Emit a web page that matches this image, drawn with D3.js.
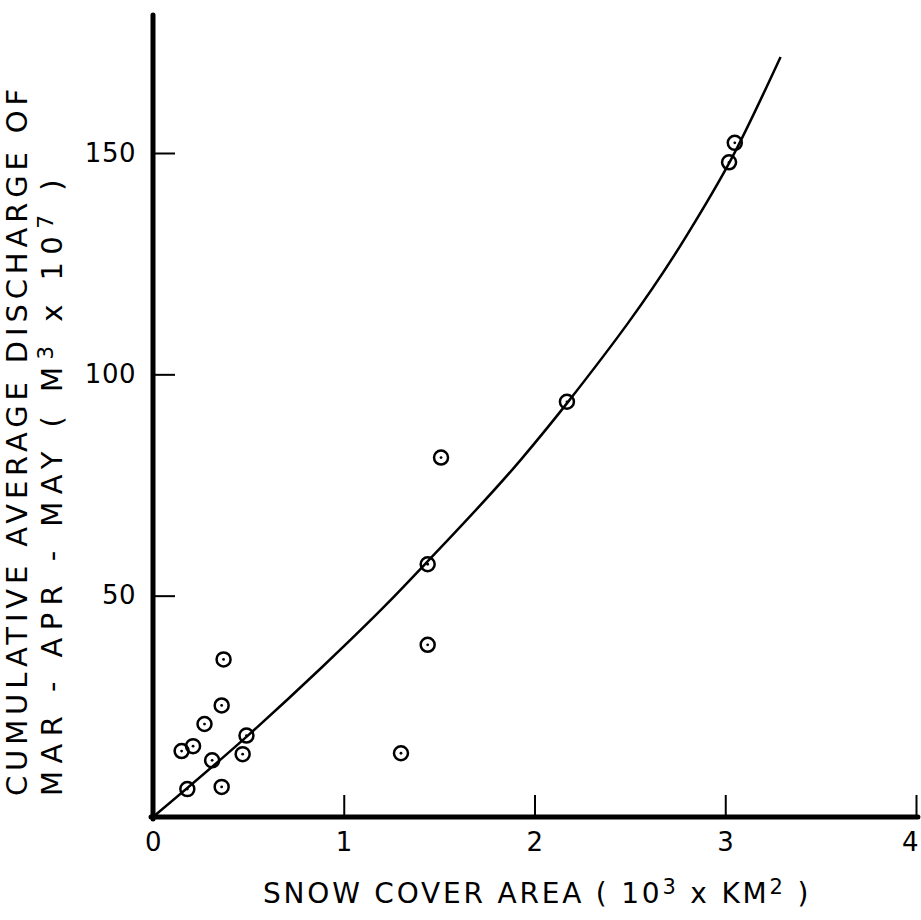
<!DOCTYPE html>
<html><head><meta charset="utf-8">
<script src="https://cdn.jsdelivr.net/npm/d3@7"></script>
<style>body{margin:0;background:#fff}svg{display:block}</style>
</head><body>
<svg id="c" width="921" height="920"></svg>
<script>
// ---- data ----
const xTickValues = [0, 1, 2, 3, 4];
const yTickValues = [50, 100, 150];
const snowArea = [0.37, 0.36, 0.27, 0.21, 0.15, 0.49, 0.47, 0.31, 0.18, 0.36, 1.51, 1.44, 1.44, 1.30, 2.17, 3.02, 3.05];
const discharge = [35.6, 25.2, 21.0, 16.0, 14.9, 18.4, 14.2, 12.8, 6.3, 6.8, 81.2, 57.1, 38.9, 14.4, 93.8, 147.9, 152.3];
// fitted curve as drawn in the figure
const curveArea = [0, 0.50, 0.88, 1.23, 1.43, 1.93, 2.18, 2.80, 3.03, 3.29];
const curveDischarge = [0, 18.5, 33.6, 48.3, 57.3, 80.8, 94.0, 131.5, 148.5, 171.7];
const xTitle = ["SNOW COVER AREA ( 10", "3", " x KM", "2", " )"];
const yTitle1 = ["CUMULATIVE AVERAGE DISCHARGE OF"];
const yTitle2 = ["MAR - APR - MAY ( M", "3", " x 10", "7", " )"];

const svg = d3.select("#c");
const FONT = "DejaVu Sans, sans-serif";
const x = d3.scaleLinear().domain([0, 4]).range([153, 916]);
const y = d3.scaleLinear().domain([0, 150]).range([817, 153]);

// axes ticks
const gx = svg.append("g").attr("transform", `translate(0,${y(0)})`)
  .call(d3.axisBottom(x).tickValues(xTickValues).tickSizeInner(-22).tickSizeOuter(0).tickPadding(16).tickFormat(d3.format("d")));
const gy = svg.append("g").attr("transform", `translate(${x(0)},0)`)
  .call(d3.axisLeft(y).tickValues(yTickValues).tickSizeInner(-22).tickSizeOuter(0).tickPadding(17).tickFormat(d3.format("d")));
[gx, gy].forEach(g => {
  g.select(".domain").remove();
  g.selectAll(".tick line").attr("stroke", "#000").attr("stroke-width", 2);
  g.selectAll(".tick text").attr("fill", "#000").style("font-family", FONT).style("font-size", "26px").attr("letter-spacing", "0.5");
});
gx.selectAll(".tick text").filter(d => d === 4).attr("dx", "-6");

// thick axis lines
svg.append("line").attr("x1", x(0)).attr("x2", x(0)).attr("y1", y(181.2)).attr("y2", y(0) + 2)
  .attr("stroke", "#000").attr("stroke-width", 5).attr("stroke-linecap", "round");
svg.append("line").attr("x1", x(0) - 2).attr("x2", x(4.01)).attr("y1", y(0)).attr("y2", y(0))
  .attr("stroke", "#000").attr("stroke-width", 5).attr("stroke-linecap", "round");

// curve
const curvePts = curveArea.map((a, i) => [a, curveDischarge[i]]);
svg.append("path").datum(curvePts)
  .attr("d", d3.line().x(d => x(d[0])).y(d => y(d[1])).curve(d3.curveMonotoneX))
  .attr("fill", "none").attr("stroke", "#000").attr("stroke-width", 2.5);

// points
const pts = snowArea.map((a, i) => [a, discharge[i]]);
const pg = svg.append("g");
pg.selectAll("circle.o").data(pts).join("circle").attr("class", "o")
  .attr("cx", d => x(d[0])).attr("cy", d => y(d[1])).attr("r", 7)
  .attr("fill", "none").attr("stroke", "#000").attr("stroke-width", 2.5);
pg.selectAll("circle.d").data(pts).join("circle").attr("class", "d")
  .attr("cx", d => x(d[0])).attr("cy", d => y(d[1])).attr("r", 1.4).attr("fill", "#000");

// titles
function supText(sel, parts) {
  parts.forEach((p, i) => {
    const t = sel.append("tspan").text(p);
    if (i % 2 === 1) { t.attr("dy", "-0.42em").style("font-size", "0.75em"); }
    else if (i > 0) { t.attr("dy", "0.32em"); }
  });
}
function fitSpacing(textSel, target) {
  textSel.attr("letter-spacing", 0);
  const node = textSel.node();
  const L = node.getComputedTextLength();
  const n = node.textContent.length;
  textSel.attr("letter-spacing", ((target - L) / n).toFixed(2));
}
const xt = svg.append("text").attr("x", 263).attr("y", 903)
  .style("font-family", FONT).style("font-size", "28px");
supText(xt, xTitle);
fitSpacing(xt, 548);

const yt1 = svg.append("text").attr("transform", "translate(27,796) rotate(-90)")
  .style("font-family", FONT).style("font-size", "29px");
supText(yt1, yTitle1);
fitSpacing(yt1, 712);
const yt2 = svg.append("text").attr("transform", "translate(62,796) rotate(-90)")
  .style("font-family", FONT).style("font-size", "29px");
supText(yt2, yTitle2);
fitSpacing(yt2, 624);
</script>
</body></html>
